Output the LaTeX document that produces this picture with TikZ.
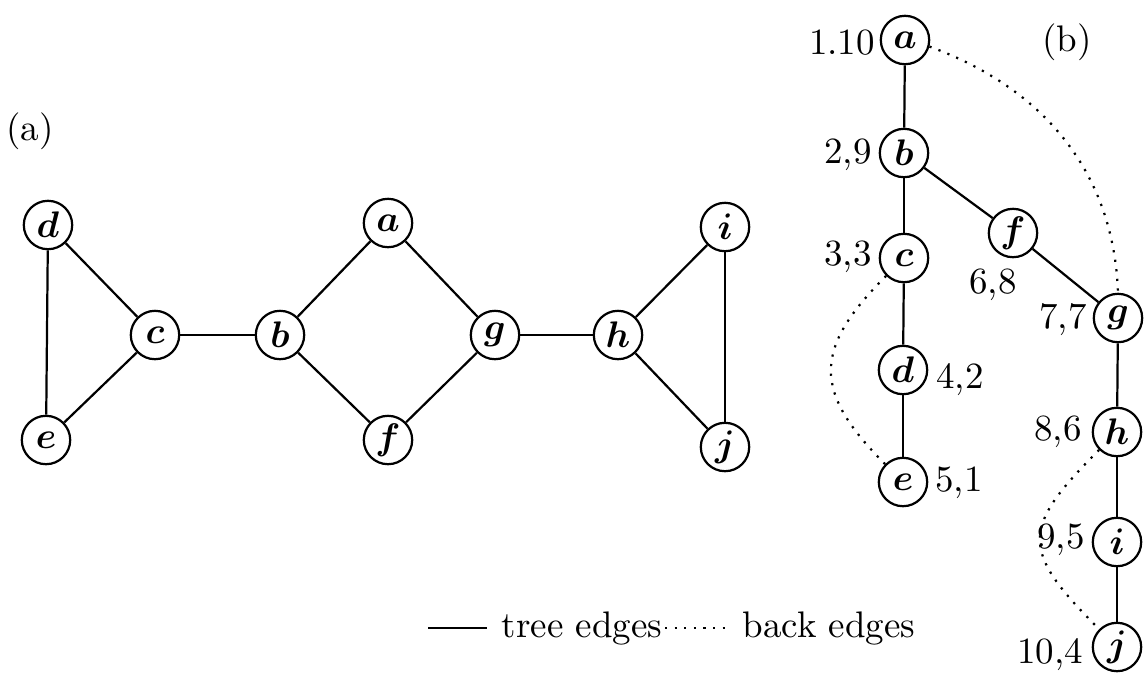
\documentclass[tikz,border=0pt]{standalone}
\usepackage{amsmath}
\usepackage{amssymb}

\begin{document}
\begin{tikzpicture}[x=0.0095cm, y=-0.0095cm,
    vert/.style={draw, circle, line width=0.6pt, minimum size=0.46cm, inner sep=0pt},
    back/.style={dotted, line width=0.6pt}]

  \useasboundingbox (0,0) rectangle (1146,678);

  % (a) the graph
  \node (la) at (30,131) {(a)};
  \node[vert] (d) at (48,225) {$\boldsymbol{d}$};
  \node[vert] (e) at (46,440) {$\boldsymbol{e}$};
  \node[vert] (c) at (155,335) {$\boldsymbol{c}$};
  \node[vert] (b) at (280,335) {$\boldsymbol{b}$};
  \node[vert] (a) at (388,223) {$\boldsymbol{a}$};
  \node[vert] (f) at (388,440) {$\boldsymbol{f}$};
  \node[vert] (g) at (495,335) {$\boldsymbol{g}$};
  \node[vert] (h) at (618,335) {$\boldsymbol{h}$};
  \node[vert] (i) at (725,227) {$\boldsymbol{i}$};
  \node[vert] (j) at (725,447) {$\boldsymbol{j}$};

  \draw[line width=0.6pt] (d) -- (c);
  \draw[line width=0.6pt] (d) -- (e);
  \draw[line width=0.6pt] (e) -- (c);
  \draw[line width=0.6pt] (c) -- (b);
  \draw[line width=0.6pt] (b) -- (a);
  \draw[line width=0.6pt] (b) -- (f);
  \draw[line width=0.6pt] (a) -- (g);
  \draw[line width=0.6pt] (f) -- (g);
  \draw[line width=0.6pt] (g) -- (h);
  \draw[line width=0.6pt] (h) -- (i);
  \draw[line width=0.6pt] (h) -- (j);
  \draw[line width=0.6pt] (i) -- (j);

  % (b) the DFS tree
  \node (lb) at (1067,42) {(b)};
  \node[vert] (ta) at (905,40) {$\boldsymbol{a}$};
  \node[vert] (tb) at (904,153) {$\boldsymbol{b}$};
  \node[vert] (tc) at (904,258) {$\boldsymbol{c}$};
  \node[vert] (td) at (903,370) {$\boldsymbol{d}$};
  \node[vert] (te) at (903,482) {$\boldsymbol{e}$};
  \node[vert] (tf) at (1013,233) {$\boldsymbol{f}$};
  \node[vert] (tg) at (1118,318) {$\boldsymbol{g}$};
  \node[vert] (th) at (1117,432) {$\boldsymbol{h}$};
  \node[vert] (ti) at (1117,542) {$\boldsymbol{i}$};
  \node[vert] (tj) at (1117,647) {$\boldsymbol{j}$};

  \node (na) at (842,43) {1.10};
  \node (nb) at (848,155) {2,9};
  \node (nc) at (848,257) {3,3};
  \node (nd) at (960,380) {4,2};
  \node (ne) at (959,483) {5,1};
  \node (nf) at (993,285) {6,8};
  \node (ng) at (1063,320) {7,7};
  \node (nh) at (1058,432) {8,6};
  \node (ni) at (1061,540) {9,5};
  \node (nj) at (1050,655) {10,4};

  \draw[line width=0.6pt] (ta) -- (tb);
  \draw[line width=0.6pt] (tb) -- (tc);
  \draw[line width=0.6pt] (tc) -- (td);
  \draw[line width=0.6pt] (td) -- (te);
  \draw[line width=0.6pt] (tb) -- (tf);
  \draw[line width=0.6pt] (tf) -- (tg);
  \draw[line width=0.6pt] (tg) -- (th);
  \draw[line width=0.6pt] (th) -- (ti);
  \draw[line width=0.6pt] (ti) -- (tj);

  % back edges
  \draw[back] (ta.-15) to[out=-20, in=92] (tg.north);
  \draw[back] (tc.south west) to[out=225, in=135, looseness=1.4] (te.north west);
  \draw[back] (th.south west) to[out=225, in=135, looseness=1.6] (tj.north west);

  % legend
  \coordinate (s1) at (428,628);
  \coordinate (s2) at (487,628);
  \coordinate (b1) at (665,628);
  \coordinate (b2) at (727,628);
  \draw[line width=0.6pt] (s1) -- (s2);
  \node (lt) at (582,628) {tree edges};
  \draw[back] (b1) -- (b2);
  \node (lk) at (829,628) {back edges};

\end{tikzpicture}
\end{document}
